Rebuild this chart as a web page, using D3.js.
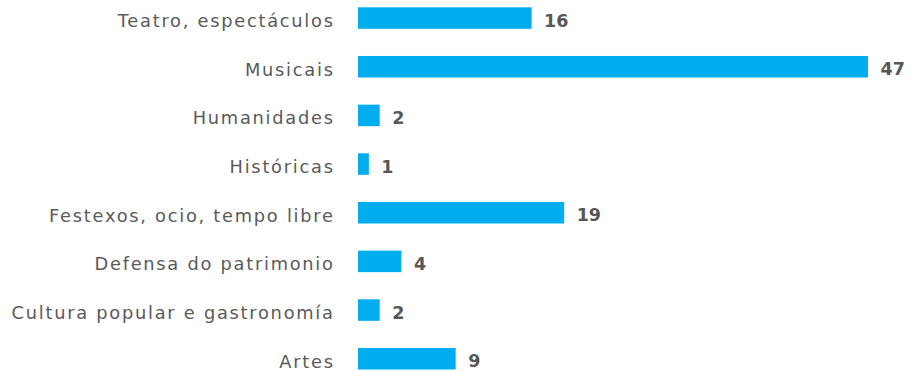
<!DOCTYPE html>
<html><head><meta charset="utf-8">
<script src="https://cdn.jsdelivr.net/npm/d3@7"></script>
<style>
html,body{margin:0;padding:0;background:#fff;}
svg{display:block;}
</style></head>
<body>
<svg id="chart" width="911" height="372"></svg>
<script>
const categories = ["Teatro, espectáculos","Musicais","Humanidades","Históricas","Festexos, ocio, tempo libre","Defensa do patrimonio","Cultura popular e gastronomía","Artes"];
const values = [16,47,2,1,19,4,2,9];

const svg = d3.select("#chart");
const x = d3.scaleLinear().domain([0,47]).range([358,868]);
const y = d3.scaleBand().domain(categories).range([7.3,369.5]).paddingInner(0.558).paddingOuter(0);

const data = categories.map((c,i)=>({c, v:values[i]}));

svg.selectAll("rect.bar").data(data).join("rect")
  .attr("class","bar")
  .attr("x", x(0))
  .attr("y", d=>y(d.c))
  .attr("width", d=>x(d.v)-x(0))
  .attr("height", y.bandwidth())
  .attr("fill","#00AEEF");

svg.selectAll("text.cat").data(data).join("text")
  .attr("class","cat")
  .attr("x", 334.7)
  .attr("y", d=>y(d.c)+y.bandwidth()/2)
  .attr("dy","8.8px")
  .attr("text-anchor","end")
  .attr("font-family","'DejaVu Sans', sans-serif")
  .attr("font-size","17.8px")
  .attr("letter-spacing","1.75px")
  .attr("fill","#5a5a5a")
  .text(d=>d.c);

svg.selectAll("text.val").data(data).join("text")
  .attr("class","val")
  .attr("x", d=>x(d.v)+12.5)
  .attr("y", d=>y(d.c)+y.bandwidth()/2)
  .attr("dy","8.5px")
  .attr("font-family","'DejaVu Sans', sans-serif")
  .attr("font-weight","bold")
  .attr("font-size","17.5px")
  .attr("fill","#575757")
  .text(d=>d.v);
</script>
</body></html>
